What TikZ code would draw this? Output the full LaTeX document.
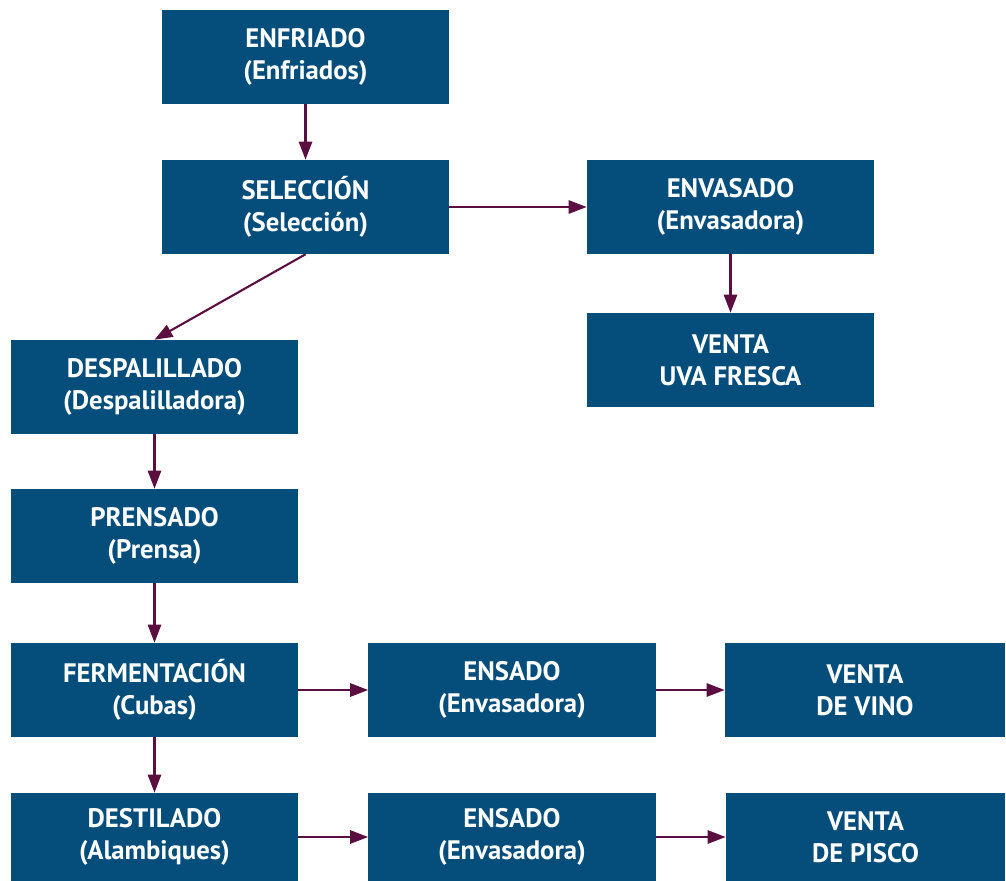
\documentclass[tikz,border=0pt]{standalone}
\usepackage{fontspec}
\setmainfont{PT Sans}
\usepackage{tikz}
\usetikzlibrary{arrows.meta,positioning}
\definecolor{boxblue}{RGB}{5,78,124}
\definecolor{arrowred}{RGB}{90,15,64}

\begin{document}
\begin{tikzpicture}[
      x=0.025cm, y=-0.025cm,
      >={Triangle[length=0.45cm,width=0.33cm]},
      stage/.style={fill=boxblue, text=white, inner sep=0pt, minimum width=7.175cm, minimum height=2.35cm, align=center, font=\fontsize{19}{22.7}\selectfont\bfseries},
      sale/.style={stage, minimum width=7cm},
      flow/.style={->, draw=arrowred, fill=arrowred, line width=1.5pt}
    ]
    \useasboundingbox (0,0) rectangle (1006,881);
    \node[stage] (cool) at (305.5,57) {ENFRIADO\\(Enfriados)};
    \node[stage] (select) at (305.5,207) {SELECCIÓN\\(Selección)};
    \node[stage] (pack) at (730.5,207) {ENVASADO\\(Envasadora)};
    \node[stage] (fresh) at (730.5,360) {VENTA\\UVA FRESCA};
    \node[stage] (destem) at (154.5,387) {DESPALILLADO\\(Despalilladora)};
    \node[stage] (press) at (154.5,536) {PRENSADO\\(Prensa)};
    \node[stage] (ferment) at (154.5,690) {FERMENTACIÓN\\(Cubas)};
    \node[stage] (bottlewine) at (512,690) {ENSADO\\(Envasadora)};
    \node[sale] (wine) at (865,690) {VENTA\\DE VINO};
    \node[stage, minimum height=2.2cm] (distill) at (154.5,837) {DESTILADO\\(Alambiques)};
    \node[stage, minimum height=2.2cm] (bottlepisco) at (512,837) {ENSADO\\(Envasadora)};
    \node[sale, minimum height=2.2cm, minimum width=6.975cm] (pisco) at (865.5,837) {VENTA\\DE PISCO};

    \draw[flow] (cool) -- (select);
    \draw[flow] (select) -- (pack);
    \draw[flow] (select.south) -- (destem.north);
    \draw[flow] (pack) -- (fresh);
    \draw[flow] (destem) -- (press);
    \draw[flow] (press) -- (ferment);
    \draw[flow] (ferment) -- (distill);
    \draw[flow] (ferment) -- (bottlewine);
    \draw[flow] (bottlewine) -- (wine);
    \draw[flow] (distill) -- (bottlepisco);
    \draw[flow] (bottlepisco) -- (pisco);
  \end{tikzpicture}
\end{document}
